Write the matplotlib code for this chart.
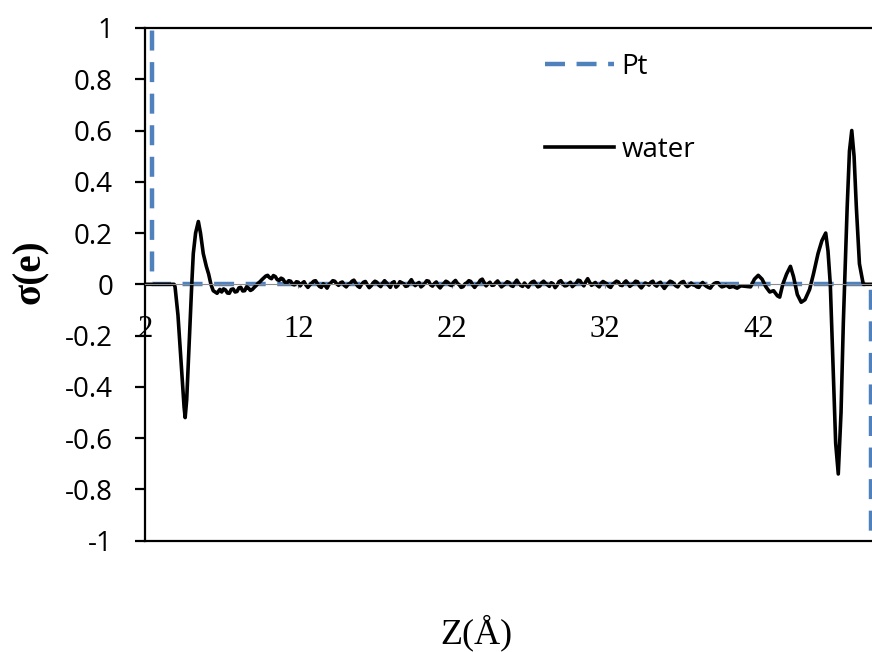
import numpy as np
import matplotlib
matplotlib.use("Agg")
import matplotlib.pyplot as plt

# Pt electrode charge (values outside the axis range are clipped)
z_pt = [2.0, 2.44, 2.44, 49.33, 49.33]
s_pt = [1.5, 1.5, 0.0, 0.0, -1.5]

# water: structure near left electrode
z_left = [2.0, 3.9, 3.96, 4.15, 4.35, 4.55, 4.62, 4.72, 4.9, 5.05, 5.15, 5.3, 5.48,
          5.62, 5.8, 6.0, 6.15, 6.3, 6.45, 6.7, 6.88]
s_left = [0.0, 0.0, -0.01, -0.12, -0.3, -0.48, -0.52, -0.45, -0.2, 0.0, 0.12, 0.2, 0.245,
          0.2, 0.12, 0.07, 0.04, 0.0, -0.025, -0.035, -0.02]

# water: bulk region, sampled every 0.125 A from 7.0, values in 1e-3 e
z_bulk_start = 7.0
s_bulk_milli = [
    -30, -18, -22, -34, -35, -20, -18, -30, -28, -14, -12, -26, -25, -10, -15, -24, -20,
    -12, -5, 4, 10, 18, 25, 32, 35, 26, 22, 34, 30, 18,
    15, 24, 20, 8, 5, 14, 12, 0, -2, 10, 8,
    -6, 4, 10, -3, -12, -2, 4, 12, 14, 2, -8, -12, 2, -5, -15, 0, 6, 14, 12, 2, -4, 6,
    9, -4, -10, 0, 3, 12, 16, 4, -7, -12, 0, 8, 11, -2, -13, -6, 5, 12, 8, -3, -9, 4,
    14, 6, -3, -12, 6, 10, -11, -4, 10, 6, 2, -8, -6, 8, 18, 4, -5, 2, 7,
    -10, -4, 4, 14, 12, -2, -7, 3, 9, -6, -14, -4, 3, 12, 8, -2, -5, 8, 15, 4, -2, -12,
    -9, 2, 6, 14, 11, -3, -12, -2, 4, 16, 20, 6, -6, 2, 8, -4, -3, 6, 13, 2, -10, -4,
    2, 10, 7, -5, -8, 6, 16, 4, -4, -8, 5, -4, -11, 2, 9, 12, 1, -10, -7, 6,
    12, 4, -2, -8, 6, 2, -13, -4, 10, 14, 3, -6, -5, 2, 8,
    -9, -2, 4, 16, 14, 2, -6, 10, 22, 8, -4, 2, 7, -4, -10, 4, 11, 6, 2, -8, -12, 0,
    6, 12, 9, -3, -5, 6, 13, 4, -8, -2, 3, 12, 10, -6, -14, -4, 5, 2, -3, 8, 12, -2,
    -7, 4, 8, -6, -16, -6, 4, 12, 9, 2, -6, -10, 2, 8, 11, -2, -9, -4, 5, -2,
    -4, -10, -12, 0, 7, -2, -8, -12, -15, -4, 3, 6, 6, -4, -10, -8, -4, -6, -12, -10,
    -8, -12, -15, -10, -6,
]

# water: structure near right electrode
z_right = [41.5, 41.75, 42.0, 42.25, 42.5, 42.75, 43.0, 43.25, 43.4, 43.6, 43.85, 44.1,
           44.3, 44.55, 44.8, 45.05, 45.35, 45.6, 45.9, 46.15, 46.4, 46.55, 46.7, 46.9,
           47.05, 47.22, 47.4, 47.55, 47.66, 47.8, 47.95, 48.1, 48.25, 48.4, 48.6,
           48.85, 49.42]
s_right = [-0.01, 0.02, 0.035, 0.02, -0.01, -0.03, -0.025, -0.045, -0.05, 0.0, 0.04, 0.07,
           0.03, -0.04, -0.07, -0.06, -0.02, 0.04, 0.12, 0.17, 0.2, 0.13, 0.0, -0.35,
           -0.62, -0.74, -0.5, -0.15, 0.05, 0.3, 0.52, 0.6, 0.5, 0.3, 0.08,
           0.0, 0.0]

x_ticks = [2, 12, 22, 32, 42]
y_ticks = [-1, -0.8, -0.6, -0.4, -0.2, 0, 0.2, 0.4, 0.6, 0.8, 1]
y_tick_labels = ["-1", "-0.8", "-0.6", "-0.4", "-0.2", "0", "0.2", "0.4", "0.6", "0.8", "1"]

z_bulk = z_bulk_start + 0.125 * np.arange(len(s_bulk_milli))
keep = z_bulk < z_right[0]
z_water = np.concatenate([z_left, z_bulk[keep], z_right])
s_water = np.concatenate([s_left, np.array(s_bulk_milli)[keep] / 1000.0, s_right])

W, H = 872, 652
fig = plt.figure(figsize=(W / 100, H / 100), dpi=100)
ax = fig.add_axes([145 / W, (H - 540.6) / H, (W - 145) / W, 512.6 / H])

ax.plot(z_pt, s_pt, color="#4F81BD", lw=3.2, dashes=(4.5, 2.6), label="Pt")
ax.plot(z_water, s_water, color="black", lw=2.6, label="water")

ax.set_xlim(2, 49.42)
ax.set_ylim(-1, 1)

ax.spines["right"].set_visible(False)
ax.spines["top"].set_linewidth(1.6)
ax.spines["left"].set_linewidth(1.6)
ax.spines["bottom"].set_position(("data", 0))
ax.spines["bottom"].set_color("#8c8c8c")
ax.spines["bottom"].set_linewidth(0.8)
ax.axhline(-1, color="black", lw=1.6, clip_on=False)

ax.set_xticks(x_ticks)
ax.set_xticklabels([str(t) for t in x_ticks], family="Liberation Serif", fontsize=22)
ax.tick_params(axis="x", direction="out", length=3, width=0.8, color="#8c8c8c", pad=19)

ax.set_yticks(y_ticks)
ax.set_yticklabels(y_tick_labels, family="Open Sans", fontsize=20)
ax.tick_params(axis="y", direction="out", length=7, width=1.6, pad=16)

fig.text(30 / W, 1 - 272 / H, "σ(e)", rotation=90, ha="center", va="center",
         family="Liberation Serif", fontweight="bold", fontsize=28)
fig.text(476 / W, 9 / H, "Z(Å)", ha="center", va="baseline",
         family="Liberation Serif", fontsize=26)

ax.legend(loc="upper left", bbox_to_anchor=(545 / W, 1 - 53 / H),
          bbox_transform=fig.transFigure, frameon=False, borderpad=0,
          borderaxespad=0, handlelength=2.5, handletextpad=0.25,
          labelspacing=1.98, prop={"family": "Open Sans", "size": 20})

fig.savefig("out.png", dpi=100)
